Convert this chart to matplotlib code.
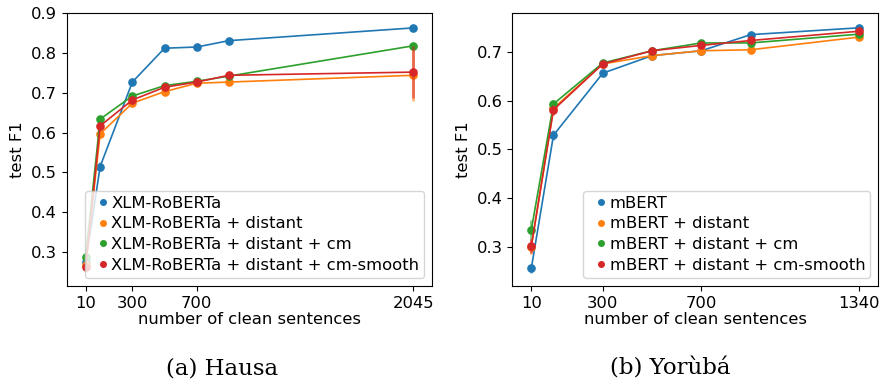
import numpy as np
import matplotlib
matplotlib.use("Agg")
from matplotlib import pyplot as plt
from matplotlib.lines import Line2D

# Hausa (XLM-RoBERTa)
hausa_x = [10, 100, 300, 500, 700, 900, 2045]
hausa_ticks = [10, 300, 700, 2045]
hausa_base = [0.275, 0.515, 0.727, 0.812, 0.815, 0.831, 0.863]
hausa_dist = [0.268, 0.597, 0.674, 0.703, 0.724, 0.727, 0.744]
hausa_cm = [0.287, 0.634, 0.692, 0.718, 0.729, 0.742, 0.818]
hausa_smooth = [0.262, 0.617, 0.682, 0.714, 0.727, 0.744, 0.752]
hausa_base_err = [0.010, 0.012, 0.006, 0.004, 0.004, 0.004, 0.004]
hausa_dist_err = [0.010, 0.008, 0.006, 0.005, 0.004, 0.004, 0.065]
hausa_cm_err = [0.012, 0.006, 0.005, 0.004, 0.004, 0.004, 0.005]
hausa_smooth_err = [0.012, 0.010, 0.006, 0.005, 0.004, 0.004, 0.065]

# Yoruba (mBERT)
yoruba_x = [10, 100, 300, 500, 700, 900, 1340]
yoruba_ticks = [10, 300, 700, 1340]
yoruba_base = [0.256, 0.529, 0.656, 0.692, 0.702, 0.735, 0.749]
yoruba_dist = [0.300, 0.584, 0.675, 0.692, 0.702, 0.704, 0.730]
yoruba_cm = [0.335, 0.593, 0.677, 0.702, 0.718, 0.718, 0.736]
yoruba_smooth = [0.302, 0.581, 0.675, 0.702, 0.713, 0.723, 0.742]
yoruba_base_err = [0.010, 0.010, 0.004, 0.003, 0.003, 0.003, 0.003]
yoruba_dist_err = [0.015, 0.008, 0.004, 0.003, 0.003, 0.003, 0.003]
yoruba_cm_err = [0.020, 0.008, 0.004, 0.003, 0.003, 0.003, 0.003]
yoruba_smooth_err = [0.015, 0.010, 0.004, 0.003, 0.003, 0.003, 0.003]

colors = ["#1f77b4", "#ff7f0e", "#2ca02c", "#d62728"]
fs = 11.8


def panel(ax, x, series, errs, labels, ticks, ylim, yticks):
    for y, e, c in zip(series, errs, colors):
        ax.errorbar(x, y, yerr=e, color=c, fmt="none", elinewidth=2,
                    alpha=0.55)
        ax.plot(x, y, color=c, lw=1.2, marker="o", ms=5.2)
    ax.margins(x=0.058)
    ax.set_xticks(ticks)
    ax.set_yticks(yticks)
    ax.set_ylim(*ylim)
    ax.tick_params(labelsize=fs)
    ax.set_xlabel("number of clean sentences", fontsize=fs, labelpad=1)
    ax.set_ylabel("test F1", fontsize=fs)
    handles = [Line2D([], [], ls="none", marker="o", ms=4, color=c) for c in colors]
    ax.legend(handles, labels, loc="lower right", fontsize=fs,
              handlelength=1.6, handletextpad=-0.3, borderpad=0.3,
              labelspacing=0.35)


fig = plt.figure(figsize=(8.84, 3.87), dpi=100)
ax1 = fig.add_axes([0.0754, 0.261, 0.4136, 0.705])
ax2 = fig.add_axes([0.5795, 0.261, 0.414, 0.705])

panel(ax1, hausa_x, [hausa_base, hausa_dist, hausa_cm, hausa_smooth],
      [hausa_base_err, hausa_dist_err, hausa_cm_err, hausa_smooth_err],
      ["XLM-RoBERTa", "XLM-RoBERTa + distant", "XLM-RoBERTa + distant + cm",
       "XLM-RoBERTa + distant + cm-smooth"],
      hausa_ticks, (0.215, 0.9), [0.3, 0.4, 0.5, 0.6, 0.7, 0.8, 0.9])
panel(ax2, yoruba_x, [yoruba_base, yoruba_dist, yoruba_cm, yoruba_smooth],
      [yoruba_base_err, yoruba_dist_err, yoruba_cm_err, yoruba_smooth_err],
      ["mBERT", "mBERT + distant", "mBERT + distant + cm",
       "mBERT + distant + cm-smooth"],
      yoruba_ticks, (0.22, 0.779), [0.3, 0.4, 0.5, 0.6, 0.7])

fig.text(0.251, 0.049, "(a) Hausa", family="DejaVu Serif", fontsize=16.5,
         ha="center", va="center")
fig.text(0.758, 0.049, "(b) Yorùbá", family="DejaVu Serif", fontsize=16.5,
         ha="center", va="center")

fig.savefig("out.png", dpi=100)
